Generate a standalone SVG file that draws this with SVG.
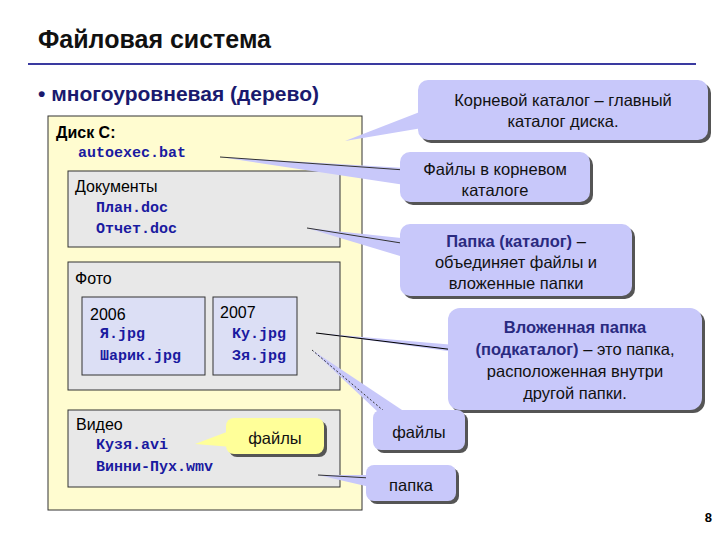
<svg xmlns="http://www.w3.org/2000/svg" width="720" height="540" viewBox="0 0 720 540">
<style>
text{font-family:"Liberation Sans",Arial,sans-serif}
.t{font-size:16px;fill:#000}
.b{font-weight:bold}
.m{font-family:"Liberation Mono","Courier New",monospace;font-weight:bold;font-size:15px;fill:#1a1aa0}
.box{fill:#e8e8e8;stroke:#333;stroke-width:1}
.sub{fill:#dcdff5;stroke:#333;stroke-width:1}
.co{fill:#c8c8fa;stroke:none}
.sh{fill:#555}
.c{font-size:16.5px;fill:#111;text-anchor:middle}
.cb{fill:#2a2a80;font-weight:bold}
</style>
<rect width="720" height="540" fill="#fff"/>
<text x="38" y="48" font-size="25" font-weight="bold" fill="#111">Файловая система</text>
<line x1="28" y1="64" x2="696" y2="64" stroke="#3a3aa0" stroke-width="2"/>
<text x="38" y="101" font-size="21" font-weight="bold" fill="#1a1a6e">•  многоуровневая (дерево)</text>
<g id="disk">
<rect x="48" y="116" width="314" height="394" fill="#fffcd0" stroke="#333"/>
<text x="56" y="138" class="t b">Диск С:</text>
<text x="78" y="157" class="m">autoexec.bat</text>
</g>
<g id="docs">
<rect x="68" y="171" width="272" height="76" class="box"/>
<text x="75" y="192" class="t">Документы</text>
<text x="96" y="212" class="m">План.doc</text>
<text x="96" y="233" class="m">Отчет.doc</text>
</g>
<g id="photo">
<rect x="68" y="262" width="272" height="128" class="box"/>
<text x="75" y="284" class="t">Фото</text>
</g>
<g id="y2006">
<rect x="82" y="297" width="123" height="78" class="sub"/>
<text x="90" y="320" class="t">2006</text>
<text x="100" y="338" class="m">Я.jpg</text>
<text x="100" y="360" class="m">Шарик.jpg</text>
</g>
<g id="y2007">
<rect x="213" y="297" width="84" height="78" class="sub"/>
<text x="220" y="318" class="t">2007</text>
<text x="232" y="338" class="m">Ку.jpg</text>
<text x="232" y="360" class="m">Зя.jpg</text>
</g>
<g id="video">
<rect x="68" y="410" width="272" height="77" class="box"/>
<text x="76" y="430" class="t">Видео</text>
<text x="96" y="449" class="m">Кузя.avi</text>
<text x="96" y="471" class="m">Винни-Пух.wmv</text>
</g>
<g id="connectors">
<polygon points="345,141 430,108 440,125" class="co"/>
<polygon points="220,157 405,168 405,185" class="co"/>
<line x1="220" y1="157" x2="405" y2="170" stroke="#333" stroke-width="1"/>
<polygon points="307,228 420,240 420,262" class="co"/>
<line x1="307" y1="228" x2="420" y2="246" stroke="#333" stroke-width="1"/>
<polygon points="316,333 455,345 455,352" class="co"/>
<line x1="316" y1="333" x2="455" y2="350" stroke="#000" stroke-width="1.2"/>
<polygon points="312,350 378,412 405,412" class="co"/>
<line x1="312" y1="350" x2="385" y2="412" stroke="#333" stroke-width="1" stroke-dasharray="2,2"/>
<polygon points="318,475 370,475 370,487" class="co"/>
<line x1="318" y1="475" x2="370" y2="478" stroke="#333" stroke-width="1"/>
<polygon points="195,444 232,430 232,447" fill="#ffff99"/>
</g>
<g id="c-root">
<rect x="421" y="83" width="290" height="60" rx="10" class="sh"/>
<rect x="418" y="80" width="290" height="60" rx="10" class="co"/>
<text x="563" y="106" class="c">Корневой каталог – главный</text>
<text x="563" y="127" class="c">каталог диска.</text>
</g>
<g id="c-rootfiles">
<rect x="403" y="155" width="190" height="50" rx="10" class="sh"/>
<rect x="400" y="152" width="190" height="50" rx="10" class="co"/>
<text x="495" y="175" class="c">Файлы в корневом</text>
<text x="495" y="196" class="c">каталоге</text>
</g>
<g id="c-folder">
<rect x="403" y="227" width="232" height="72" rx="10" class="sh"/>
<rect x="400" y="224" width="232" height="72" rx="10" class="co"/>
<text x="516" y="247" class="c"><tspan class="cb">Папка (каталог)</tspan> –</text>
<text x="516" y="268" class="c">объединяет файлы и</text>
<text x="516" y="289" class="c">вложенные папки</text>
</g>
<g id="c-sub">
<rect x="451" y="311" width="254" height="102" rx="12" class="sh"/>
<rect x="448" y="308" width="254" height="102" rx="12" class="co"/>
<text x="575" y="333" class="c cb">Вложенная папка</text>
<text x="575" y="355" class="c"><tspan class="cb">(подкаталог)</tspan> – это папка,</text>
<text x="575" y="377" class="c">расположенная внутри</text>
<text x="575" y="399" class="c">другой папки.</text>
</g>
<g id="c-files">
<rect x="376" y="413" width="92" height="40" rx="8" class="sh"/>
<rect x="373" y="410" width="92" height="40" rx="8" class="co"/>
<text x="419" y="438" class="c" font-size="21">файлы</text>
</g>
<g id="c-folder2">
<rect x="369" y="468" width="90" height="36" rx="8" class="sh"/>
<rect x="366" y="465" width="90" height="36" rx="8" class="co"/>
<text x="411" y="491" class="c" font-size="21">папка</text>
</g>
<g id="c-yfiles">
<rect x="229" y="421" width="98" height="36" rx="8" class="sh"/>
<rect x="226" y="418" width="98" height="36" rx="8" fill="#ffff99"/>
<text x="275" y="444" class="c" font-size="20">файлы</text>
</g>
<text x="712" y="522" font-size="13" font-weight="bold" text-anchor="end">8</text>
</svg>
